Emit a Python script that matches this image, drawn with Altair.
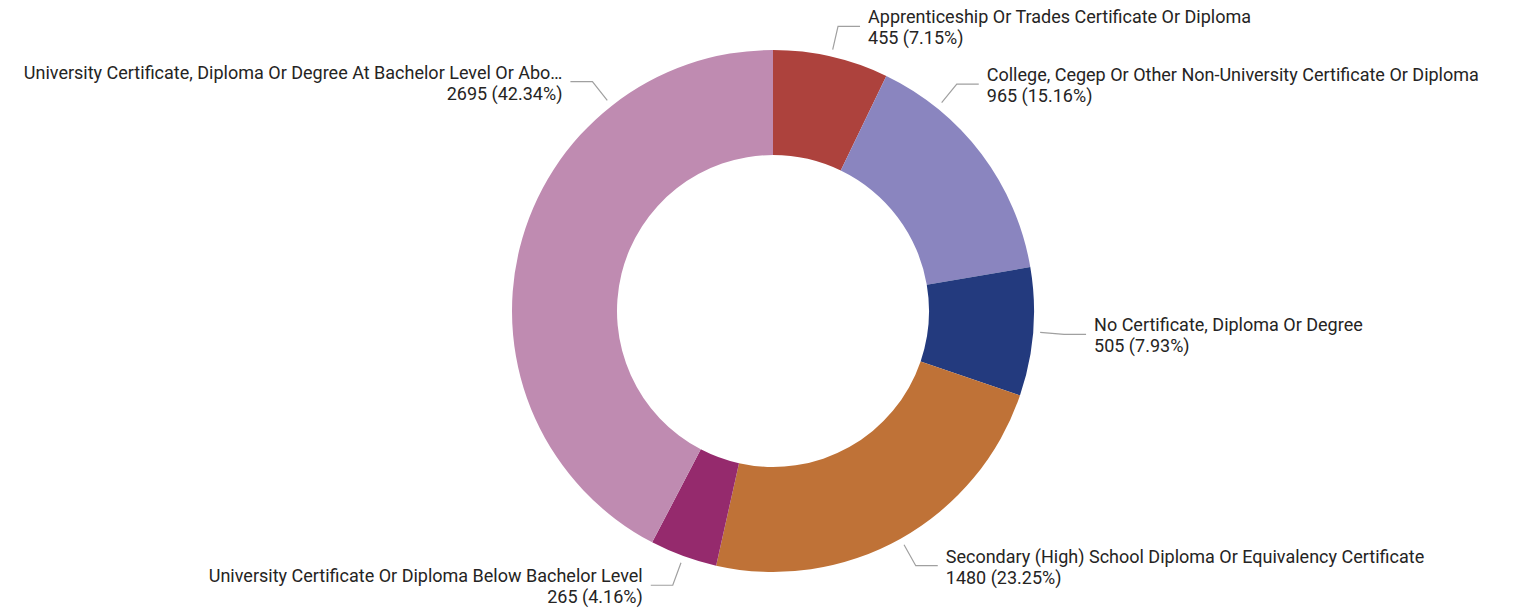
import math
import altair as alt
import pandas as pd

# ---- data ----
categories = [
    "Apprenticeship Or Trades Certificate Or Diploma",
    "College, Cegep Or Other Non-University Certificate Or Diploma",
    "No Certificate, Diploma Or Degree",
    "Secondary (High) School Diploma Or Equivalency Certificate",
    "University Certificate Or Diploma Below Bachelor Level",
    "University Certificate, Diploma Or Degree At Bachelor Level Or Above",
]
display_labels = [
    "Apprenticeship Or Trades Certificate Or Diploma",
    "College, Cegep Or Other Non-University Certificate Or Diploma",
    "No Certificate, Diploma Or Degree",
    "Secondary (High) School Diploma Or Equivalency Certificate",
    "University Certificate Or Diploma Below Bachelor Level",
    "University Certificate, Diploma Or Degree At Bachelor Level Or Abo…",
]
values = [455, 965, 505, 1480, 265, 2695]
colors = ["#AD423D", "#8A85BF", "#233A7E", "#BF7237", "#952A6D", "#BF8BB1"]

# ---- layout ----
W, H = 1498, 593
CX, CY = 765, 303          # donut centre inside the plot area
R_IN, R_OUT = 156, 261
R_START, R_ELBOW, H_LEN, GAP = 268, 292, 22, 8
angle_override = {1: 39.0, 5: 321.8}   # leader angles shifted to avoid collisions

total = sum(values)
rows, line_rows, text_rows = [], [], []
cum = 0
for i, (c, v) in enumerate(zip(categories, values)):
    mid = (cum + v / 2) / total * 360
    cum += v
    rows.append({"cat": c, "value": v, "idx": i})
    a = math.radians(angle_override.get(i, mid))
    sx, sy = R_START * math.sin(a), R_START * math.cos(a)
    ex, ey = R_ELBOW * math.sin(a), R_ELBOW * math.cos(a)
    side = 1 if math.sin(a) >= 0 else -1
    hx = ex + side * H_LEN
    for seq, (px, py) in enumerate([(sx, sy), (ex, ey), (hx, ey)]):
        line_rows.append({"cat": c, "seq": seq, "x": px, "y": py})
    pct = v / total * 100
    text_rows.append({
        "cat": c,
        "x": hx + side * GAP,
        "y": ey,
        "side": "right" if side > 0 else "left",
        "label": f"{display_labels[i]}\n{v} ({pct:.2f}%)",
    })

df = pd.DataFrame(rows)
lines_df = pd.DataFrame(line_rows)
text_df = pd.DataFrame(text_rows)

xs = alt.Scale(domain=[-CX, W - CX], nice=False, zero=False)
ys = alt.Scale(domain=[-(H - CY), CY], nice=False, zero=False)

arc = alt.Chart(df).mark_arc(innerRadius=R_IN, outerRadius=R_OUT).encode(
    theta=alt.Theta("value:Q", stack=True),
    order=alt.Order("idx:Q"),
    color=alt.Color("cat:N", scale=alt.Scale(domain=categories, range=colors), legend=None),
    x=alt.X(datum=0, type="quantitative", scale=xs, axis=None),
    y=alt.Y(datum=0, type="quantitative", scale=ys, axis=None),
)

leaders = alt.Chart(lines_df).mark_line(color="#A0A0A0", strokeWidth=1.2).encode(
    x=alt.X("x:Q", scale=xs, axis=None),
    y=alt.Y("y:Q", scale=ys, axis=None),
    detail="cat:N",
    order="seq:Q",
)

text_common = dict(font="Roboto", fontSize=18, color="#252423", lineBreak="\n",
                   lineHeight=21, baseline="middle", dy=-8)
right_text = alt.Chart(text_df[text_df.side == "right"]).mark_text(align="left", **text_common).encode(
    x=alt.X("x:Q", scale=xs, axis=None), y=alt.Y("y:Q", scale=ys, axis=None), text="label:N")
left_text = alt.Chart(text_df[text_df.side == "left"]).mark_text(align="right", **text_common).encode(
    x=alt.X("x:Q", scale=xs, axis=None), y=alt.Y("y:Q", scale=ys, axis=None), text="label:N")

chart = alt.layer(arc, leaders, right_text, left_text).properties(
    width=W, height=H, padding=0, background="white"
).configure_view(strokeWidth=0, stroke=None)

chart.save("out.html", embed_options={"renderer": "svg", "actions": False})
